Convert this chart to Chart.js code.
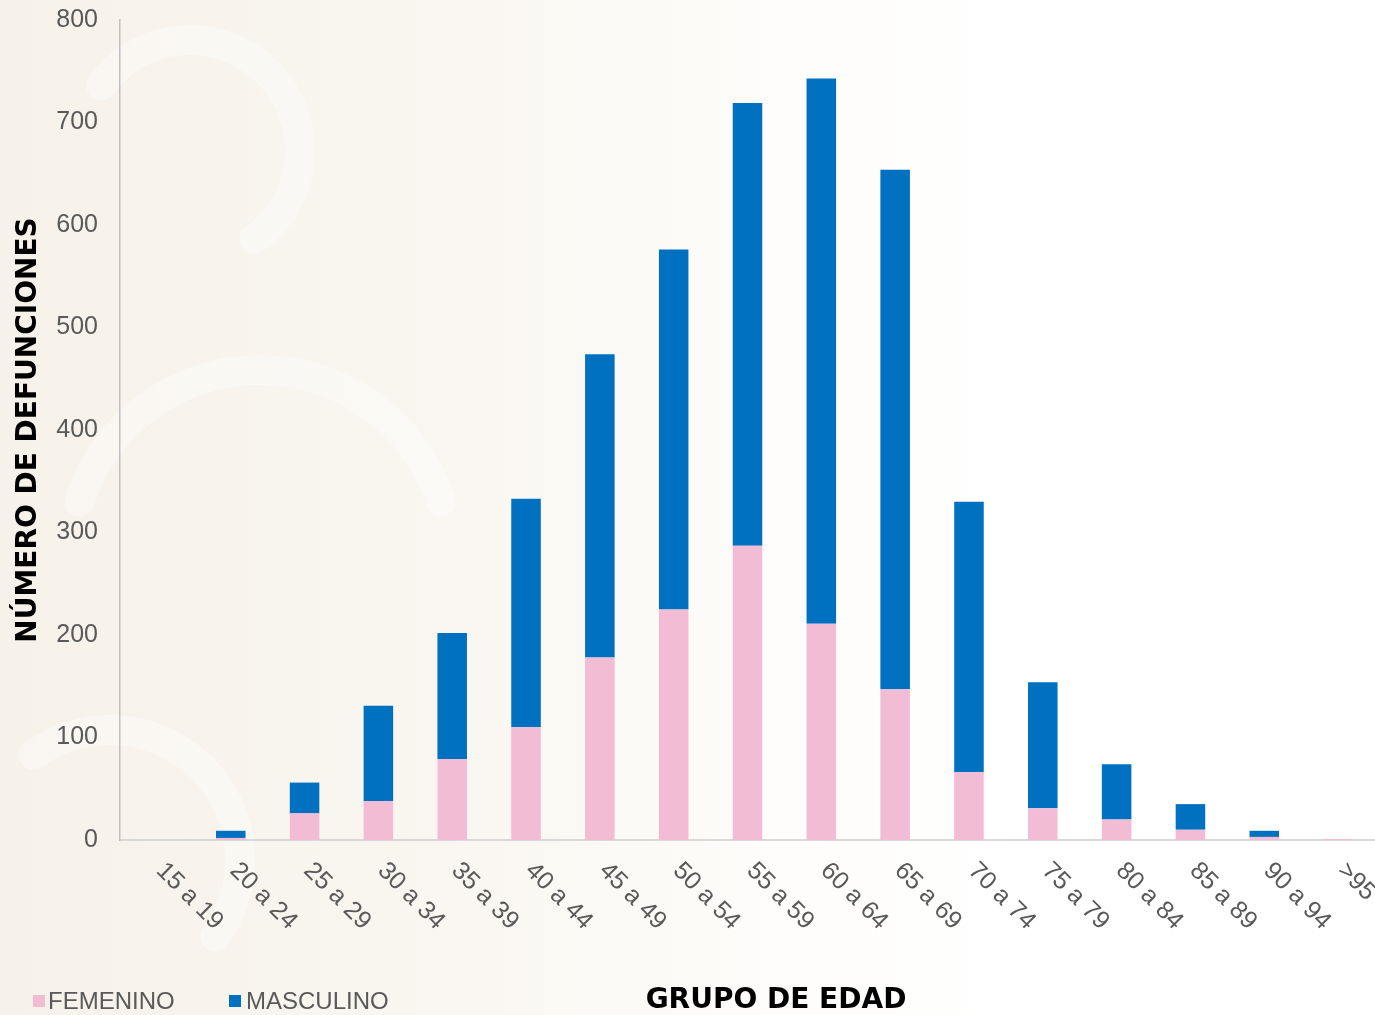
<!DOCTYPE html>
<html>
<head>
<meta charset="utf-8">
<script src="https://cdn.jsdelivr.net/npm/chart.js@4"></script>
<style>
html,body{margin:0;padding:0;background:#fff;}
#wrap{position:relative;width:1375px;height:1015px;}
</style>
</head>
<body>
<div id="wrap"><canvas id="c" width="1375" height="1015"></canvas></div>
<script>
const categories = ["15 a 19","20 a 24","25 a 29","30 a 34","35 a 39","40 a 44","45 a 49","50 a 54","55 a 59","60 a 64","65 a 69","70 a 74","75 a 79","80 a 84","85 a 89","90 a 94",">95"];
const femenino  = [0, 2, 26, 38, 79, 110, 178, 225, 287, 211, 147, 66, 31, 20, 10, 3, 1];
const masculino = [0, 7, 30, 93, 123, 223, 296, 351, 432, 532, 507, 264, 123, 54, 25, 6, 0];
const yTicks = [0,100,200,300,400,500,600,700,800];
const seriesNames = ["FEMENINO","MASCULINO"];
const yTitle = "NÚMERO DE DEFUNCIONES";
const xTitle = "GRUPO DE EDAD";

const PINK = "#f2bcd4", BLUE = "#0070c0", GRAY = "#595959";
const FONT = "'Liberation Sans', Arial, sans-serif";

const bgPlugin = {
  id: "bg",
  beforeDraw(chart) {
    const ctx = chart.ctx;
    ctx.save();
    const g = ctx.createLinearGradient(0, 0, 1375, 0);
    g.addColorStop(0, "#f6f2ea");
    g.addColorStop(0.3, "#f9f6f0");
    g.addColorStop(0.55, "#fdfcfa");
    g.addColorStop(0.75, "#ffffff");
    g.addColorStop(1, "#ffffff");
    ctx.fillStyle = g;
    ctx.fillRect(0, 0, chart.width, chart.height);
    ctx.strokeStyle = "rgba(255,255,255,0.35)";
    ctx.lineWidth = 30;
    ctx.lineCap = "round";
    ctx.beginPath(); ctx.arc(190, 150, 110, Math.PI*1.2, Math.PI*2.3); ctx.stroke();
    ctx.beginPath(); ctx.arc(260, 560, 190, Math.PI*1.1, Math.PI*1.9); ctx.stroke();
    ctx.beginPath(); ctx.arc(110, 860, 130, Math.PI*1.3, Math.PI*2.2); ctx.stroke();
    ctx.restore();
  }
};

const textPlugin = {
  id: "texts",
  afterDraw(chart) {
    const ctx = chart.ctx;
    const x = chart.scales.x;
    ctx.save();
    ctx.fillStyle = GRAY;
    ctx.font = "25px " + FONT;
    ctx.textAlign = "left";
    ctx.textBaseline = "top";
    categories.forEach((c, i) => {
      const px = x.getPixelForValue(i);
      ctx.save();
      ctx.translate(px + 12, 858);
      ctx.rotate(Math.PI / 4);
      ctx.fillText(c, 0, 0);
      ctx.restore();
    });
    ctx.fillStyle = "#000";
    ctx.font = "bold 28px 'DejaVu Sans', sans-serif";
    ctx.textAlign = "center";
    ctx.textBaseline = "middle";
    ctx.save();
    ctx.translate(29, 430);
    ctx.rotate(-Math.PI / 2);
    ctx.fillText(yTitle, 0, 0);
    ctx.restore();
    ctx.font = "bold 28px 'DejaVu Sans', sans-serif";
    ctx.fillText(xTitle, 776, 1001);
    ctx.font = "24px " + FONT;
    ctx.textAlign = "left";
    ctx.fillStyle = PINK; ctx.fillRect(33, 995, 12, 12);
    ctx.fillStyle = GRAY; ctx.fillText(seriesNames[0], 48, 1002);
    ctx.fillStyle = BLUE; ctx.fillRect(229, 995, 12, 12);
    ctx.fillStyle = GRAY; ctx.fillText(seriesNames[1], 246, 1002);
    ctx.restore();
  }
};

new Chart(document.getElementById("c"), {
  type: "bar",
  data: {
    labels: categories,
    datasets: [
      { label: seriesNames[0], data: femenino, backgroundColor: PINK },
      { label: seriesNames[1], data: masculino, backgroundColor: BLUE }
    ]
  },
  options: {
    responsive: false,
    animation: false,
    devicePixelRatio: 1,
    layout: { padding: { top: 20, right: 0, left: 0, bottom: 0 } },
    plugins: { legend: { display: false }, tooltip: { enabled: false } },
    datasets: { bar: { categoryPercentage: 1, barPercentage: 0.4 } },
    scales: {
      x: {
        stacked: true,
        grid: { display: false, drawTicks: false },
        border: { color: "#d9d9d9", width: 2 },
        ticks: { display: false },
        afterFit(s) { s.height = 175; s.paddingLeft = 0; s.paddingRight = 0; }
      },
      y: {
        stacked: true,
        min: 0, max: 800,
        afterBuildTicks(s) { s.ticks = yTicks.map(v => ({ value: v })); },
        grid: { display: false, drawTicks: false },
        border: { color: "#bfbfbf", width: 1.5 },
        ticks: { color: GRAY, font: { size: 25, family: FONT }, padding: 22 },
        afterFit(s) { s.width = 120; s.paddingTop = 0; s.paddingBottom = 0; }
      }
    }
  },
  plugins: [bgPlugin, textPlugin]
});
</script>
</body>
</html>
